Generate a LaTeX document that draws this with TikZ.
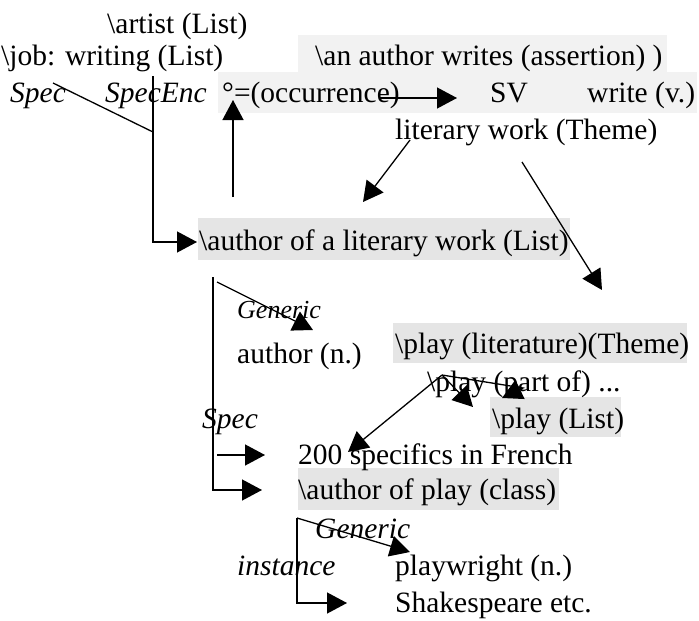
\documentclass[tikz,border=0pt]{standalone}
\usepackage{fontspec}
\setmainfont{Liberation Serif}
\usetikzlibrary{arrows.meta}

\begin{document}
\begin{tikzpicture}[x=1pt, y=-1pt,
    txt/.style={anchor=base west, inner sep=0pt, font=\fontsize{29.5}{34}\selectfont},
    itxt/.style={anchor=base west, inner sep=0pt, font=\fontsize{29.5}{34}\selectfont\itshape},
    stxt/.style={anchor=base west, inner sep=0pt, font=\fontsize{26}{30}\selectfont\itshape},
    ln/.style={line width=1.3pt},
    arr/.style={ln, -{Triangle[length=20pt, width=21pt]}}]
    % Fix the page to the size of the reference (0 < x < 699, 0 < y < 621)
    \useasboundingbox (0, 0) rectangle (699, 621);

    % Grey shading behind the highlighted entries
    \fill[black!5] (298, 35) rectangle (667, 72);
    \fill[black!5] (218, 72) rectangle (697, 113);
    \fill[black!10] (198, 218) rectangle (570, 260);
    \fill[black!10] (393, 323) rectangle (687, 363);
    \fill[black!10] (490, 397) rectangle (621, 437);
    \fill[black!10] (298, 468) rectangle (559, 510);

    % Top block of entries
    \node[txt] (artist) at (107, 33) {\textbackslash artist (List)};
    \node[txt] (job) at (1, 65) {\textbackslash job: writing (List)};
    \node[txt] (anwrites) at (315, 65) {\textbackslash an author writes (assertion) )};
    \node[itxt] (spec) at (10, 102) {Spec};
    \node[itxt] (specenc) at (105, 102) {SpecEnc};
    \node[txt] (occ) at (222, 102) {°=(occurrence)};
    \node[txt] (sv) at (490, 102) {SV};
    \node[txt] (write) at (587, 102) {write (v.)};
    \node[txt] (litwork) at (395, 139) {literary work (Theme)};

    % Middle block
    \node[txt] (authorlit) at (199, 250) {\textbackslash author of a literary work (List)};
    \node[stxt] (generic) at (237, 318) {Generic};
    \node[txt] (authorn) at (237, 363) {author (n.)};
    \node[txt] (playlit) at (395, 353) {\textbackslash play (literature)(Theme)};
    \node[txt] (playpart) at (427, 391) {\textbackslash play (part of) ...};
    \node[txt] (playlist) at (492, 428) {\textbackslash play (List)};

    % Bottom block
    \node[itxt] (spectwo) at (202, 428) {Spec};
    \node[txt] (specifics) at (298, 464) {200 specifics in French};
    \node[txt] (authorplay) at (298, 499) {\textbackslash author of play (class)};
    \node[itxt] (generictwo) at (315, 538) {Generic};
    \node[itxt] (instance) at (237, 575) {instance};
    \node[txt] (playwright) at (395, 575) {playwright (n.)};
    \node[txt] (shakespeare) at (395, 612) {Shakespeare etc.};

    % Free ends of the connectors
    \coordinate (specfoot) at (53, 83);
    \coordinate (spectop) at (153, 76);
    \coordinate (specjoin) at (153, 132);
    \coordinate (speccorner) at (153, 242);
    \coordinate (authorlitin) at (197, 242);
    \coordinate (encfoot) at (233, 197);
    \coordinate (enctip) at (233, 100);
    \coordinate (occend) at (380, 98);
    \coordinate (svtip) at (457, 98);
    \coordinate (litleft) at (410, 140);
    \coordinate (litlefttip) at (363, 202);
    \coordinate (litright) at (522, 162);
    \coordinate (litrighttip) at (602, 290);
    \coordinate (gentop) at (213, 277);
    \coordinate (genstart) at (217, 282);
    \coordinate (gentip) at (313, 330);
    \coordinate (gencorner) at (213, 490);
    \coordinate (authorplayin) at (262, 490);
    \coordinate (specstart) at (217, 455);
    \coordinate (specificsin) at (265, 455);
    \coordinate (partpeak) at (442, 375);
    \coordinate (partend) at (523, 388);
    \coordinate (partlisttip) at (502, 398);
    \coordinate (partdown) at (473, 407);
    \coordinate (frenchtip) at (348, 452);
    \coordinate (insttop) at (297, 518);
    \coordinate (instcorner) at (297, 603);
    \coordinate (shakein) at (347, 603);
    \coordinate (wrighttip) at (410, 552);

    % Spec / SpecEnc lines down to the author of a literary work
    \draw[ln] (specfoot) -- (specjoin);
    \draw[arr] (spectop) -- (speccorner) -- (authorlitin);
    \draw[arr] (encfoot) -- (enctip);

    % Occurrence to SV, literary work arrows
    \draw[arr] (occend) -- (svtip);
    \draw[arr] (litleft) -- (litlefttip);
    \draw[arr] (litright) -- (litrighttip);

    % Generic and Spec under the author of a literary work
    \draw[arr] (genstart) -- (gentip);
    \draw[arr] (gentop) -- (gencorner) -- (authorplayin);
    \draw[arr] (specstart) -- (specificsin);

    % Play (part of) arrows
    \draw[arr] (partpeak) -- (frenchtip);
    \draw[arr] (partpeak) -- (partdown);
    \draw[arr] (partpeak) -- (partend) -- (partlisttip);

    % Generic and instance under the author of play
    \draw[arr] (insttop) -- (wrighttip);
    \draw[arr] (insttop) -- (instcorner) -- (shakein);
\end{tikzpicture}
\end{document}
